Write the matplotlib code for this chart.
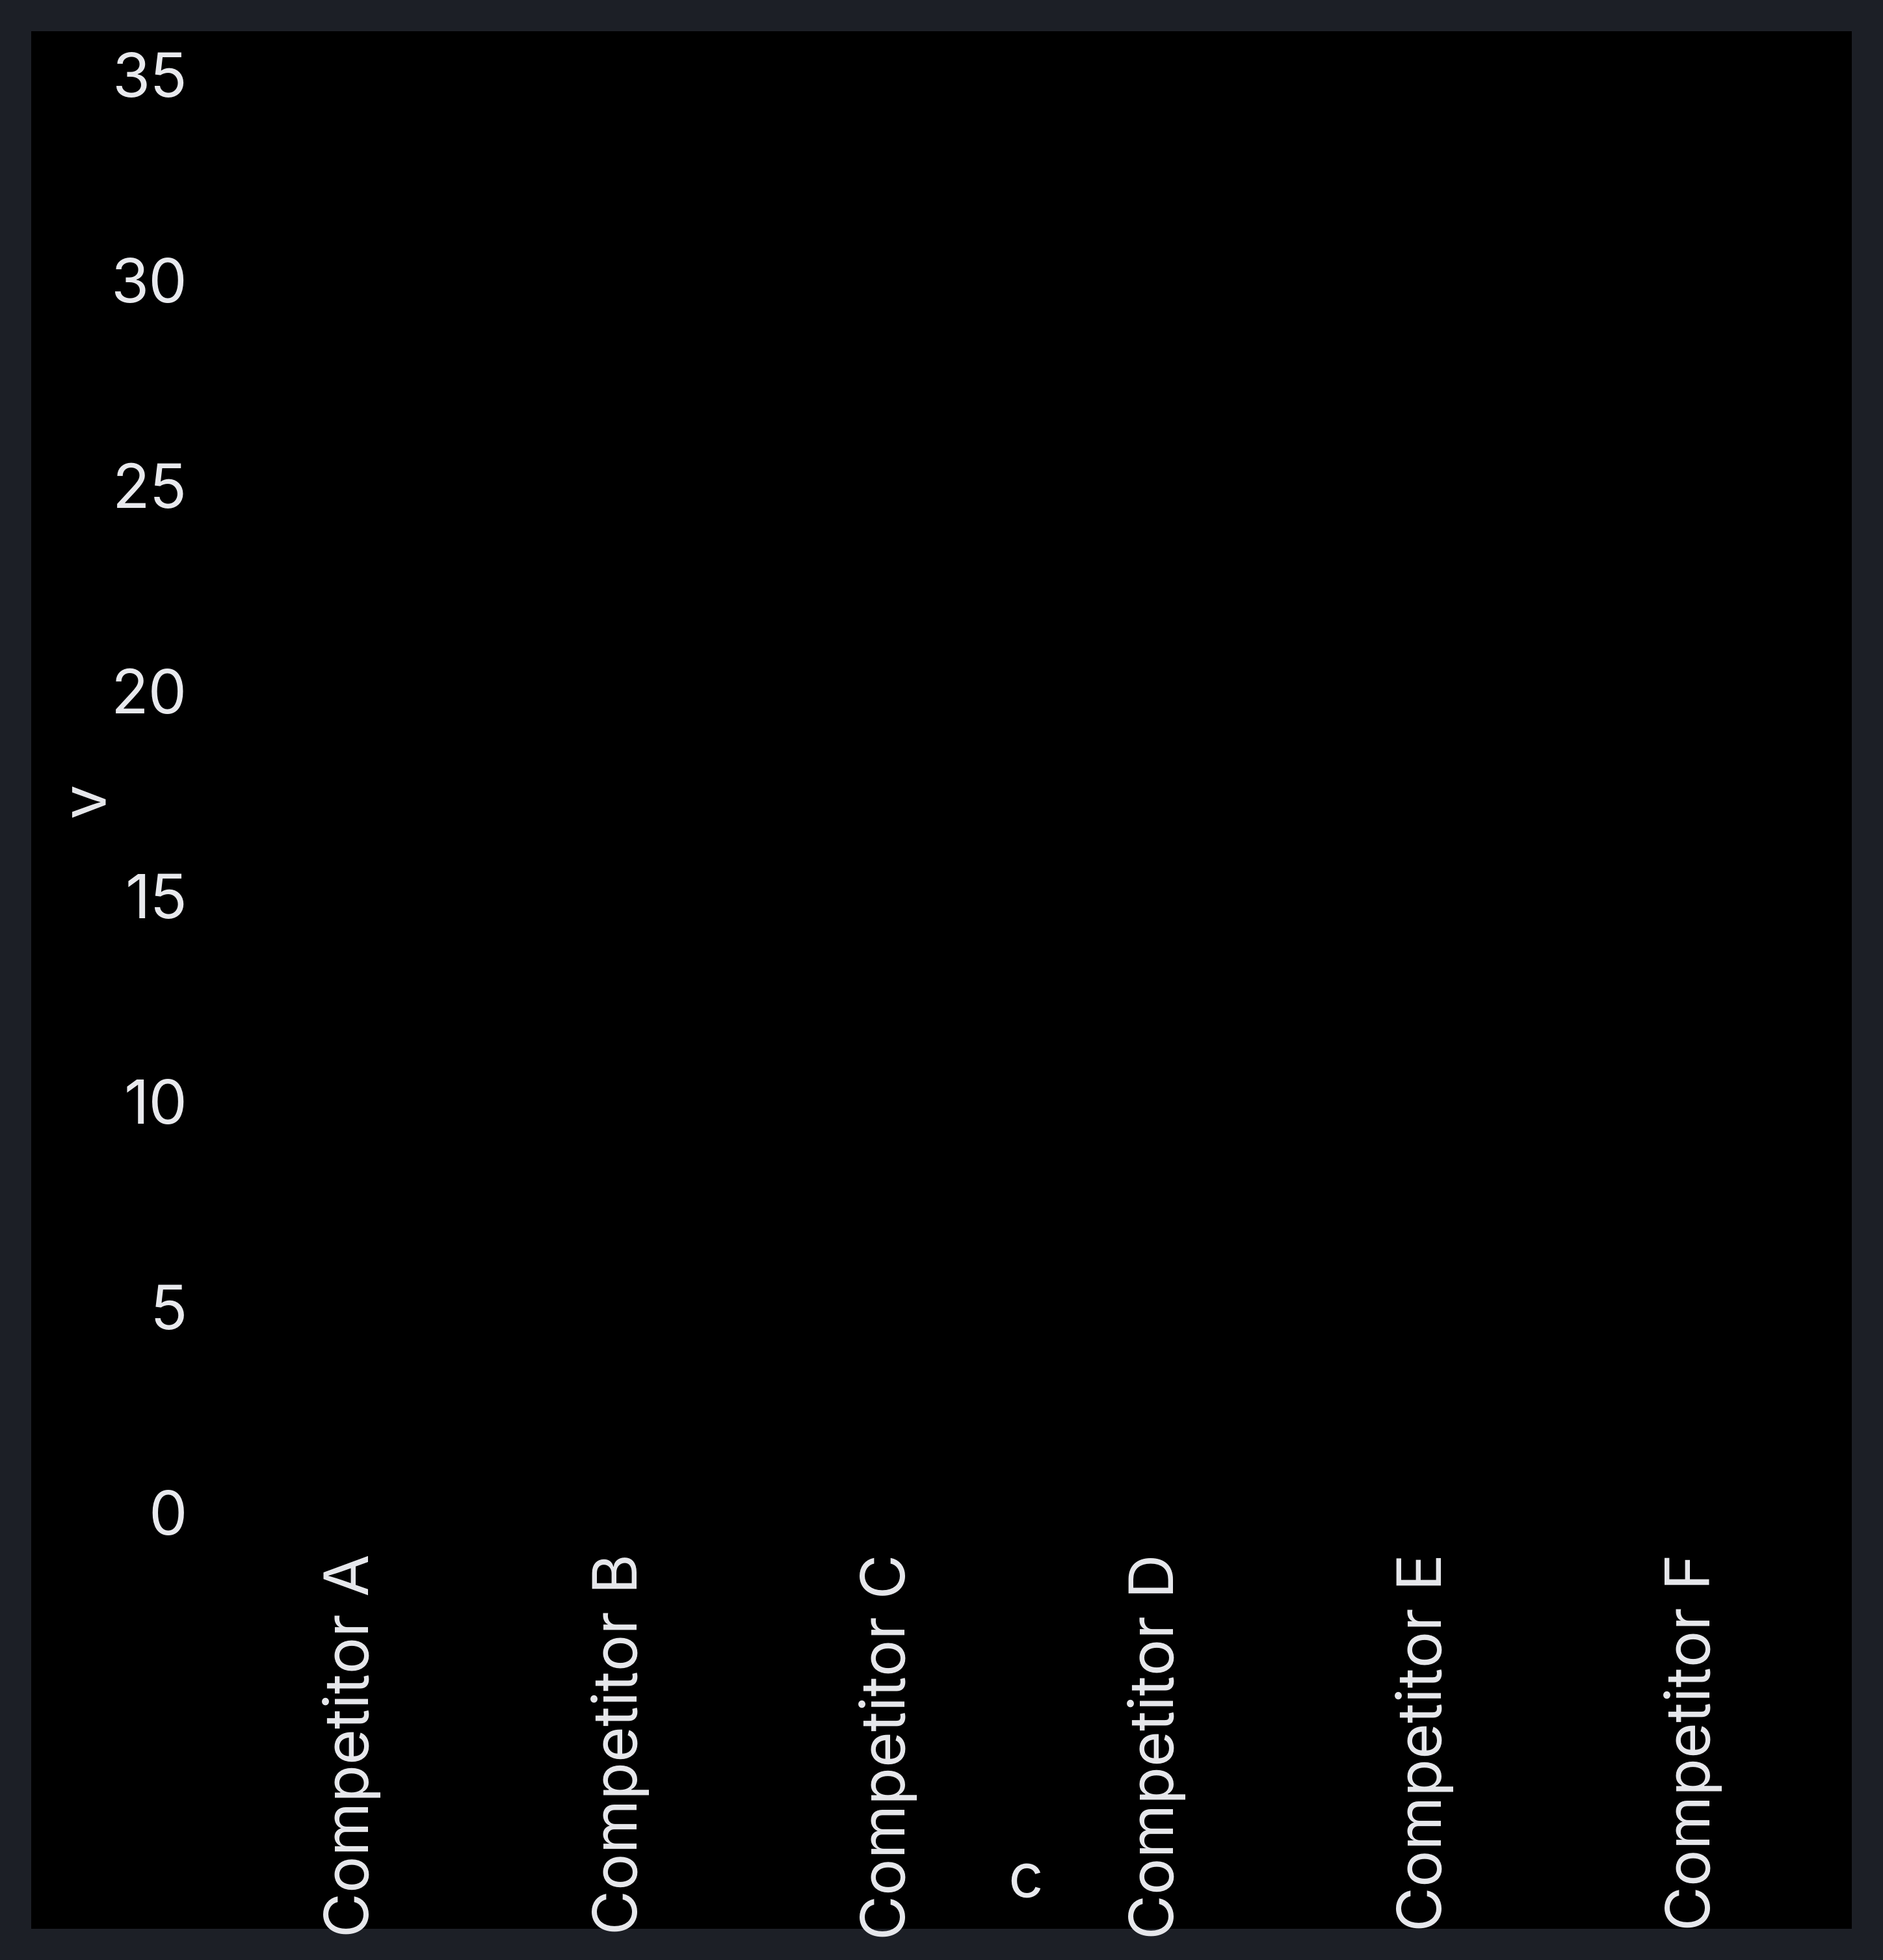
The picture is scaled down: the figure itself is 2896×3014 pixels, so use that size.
import matplotlib.pyplot as plt
from matplotlib.patches import Rectangle

# categorias y escala del eje
categorias = ['Competitor A', 'Competitor B', 'Competitor C',
              'Competitor D', 'Competitor E', 'Competitor F']
ticks_y = [0, 5, 10, 15, 20, 25, 30, 35]

color_texto = '#e8e9ed'
color_borde = '#1c1f26'

plt.rcParams['font.family'] = ['Inter', 'DejaVu Sans']

fig = plt.figure(figsize=(14.48, 15.07), dpi=200, facecolor=color_borde)
W, H = 2896, 3014

# fondo negro con margen de 48 px (detras de los ejes)
fig.patches.append(Rectangle((48 / W, 48 / H), 2800 / W, 2918 / H,
                             transform=fig.transFigure, facecolor='black',
                             edgecolor='none', zorder=-10))

ax = fig.add_axes([335 / W, (H - 2326) / H, 2475 / W, 2211 / H])
ax.set_facecolor('none')

ax.set_xlim(-0.5, len(categorias) - 0.5)
ax.set_ylim(0, 35)
ax.set_xticks(range(len(categorias)), categorias, rotation=90, va='top')
ax.set_yticks(ticks_y)

for s in ax.spines.values():
    s.set_visible(False)
ax.tick_params(axis='both', length=0, labelsize=34, colors=color_texto)
ax.tick_params(axis='y', pad=16.9)
ax.tick_params(axis='x', pad=22.7)

ax.set_xlabel('c', fontsize=34, color=color_texto, va='center')
ax.xaxis.set_label_coords(0.502, -0.256)
ax.set_ylabel('v', fontsize=34, color=color_texto, va='center')
ax.yaxis.set_label_coords(-0.0804, 0.4957)

fig.savefig('out.png', dpi=200, facecolor=color_borde)
